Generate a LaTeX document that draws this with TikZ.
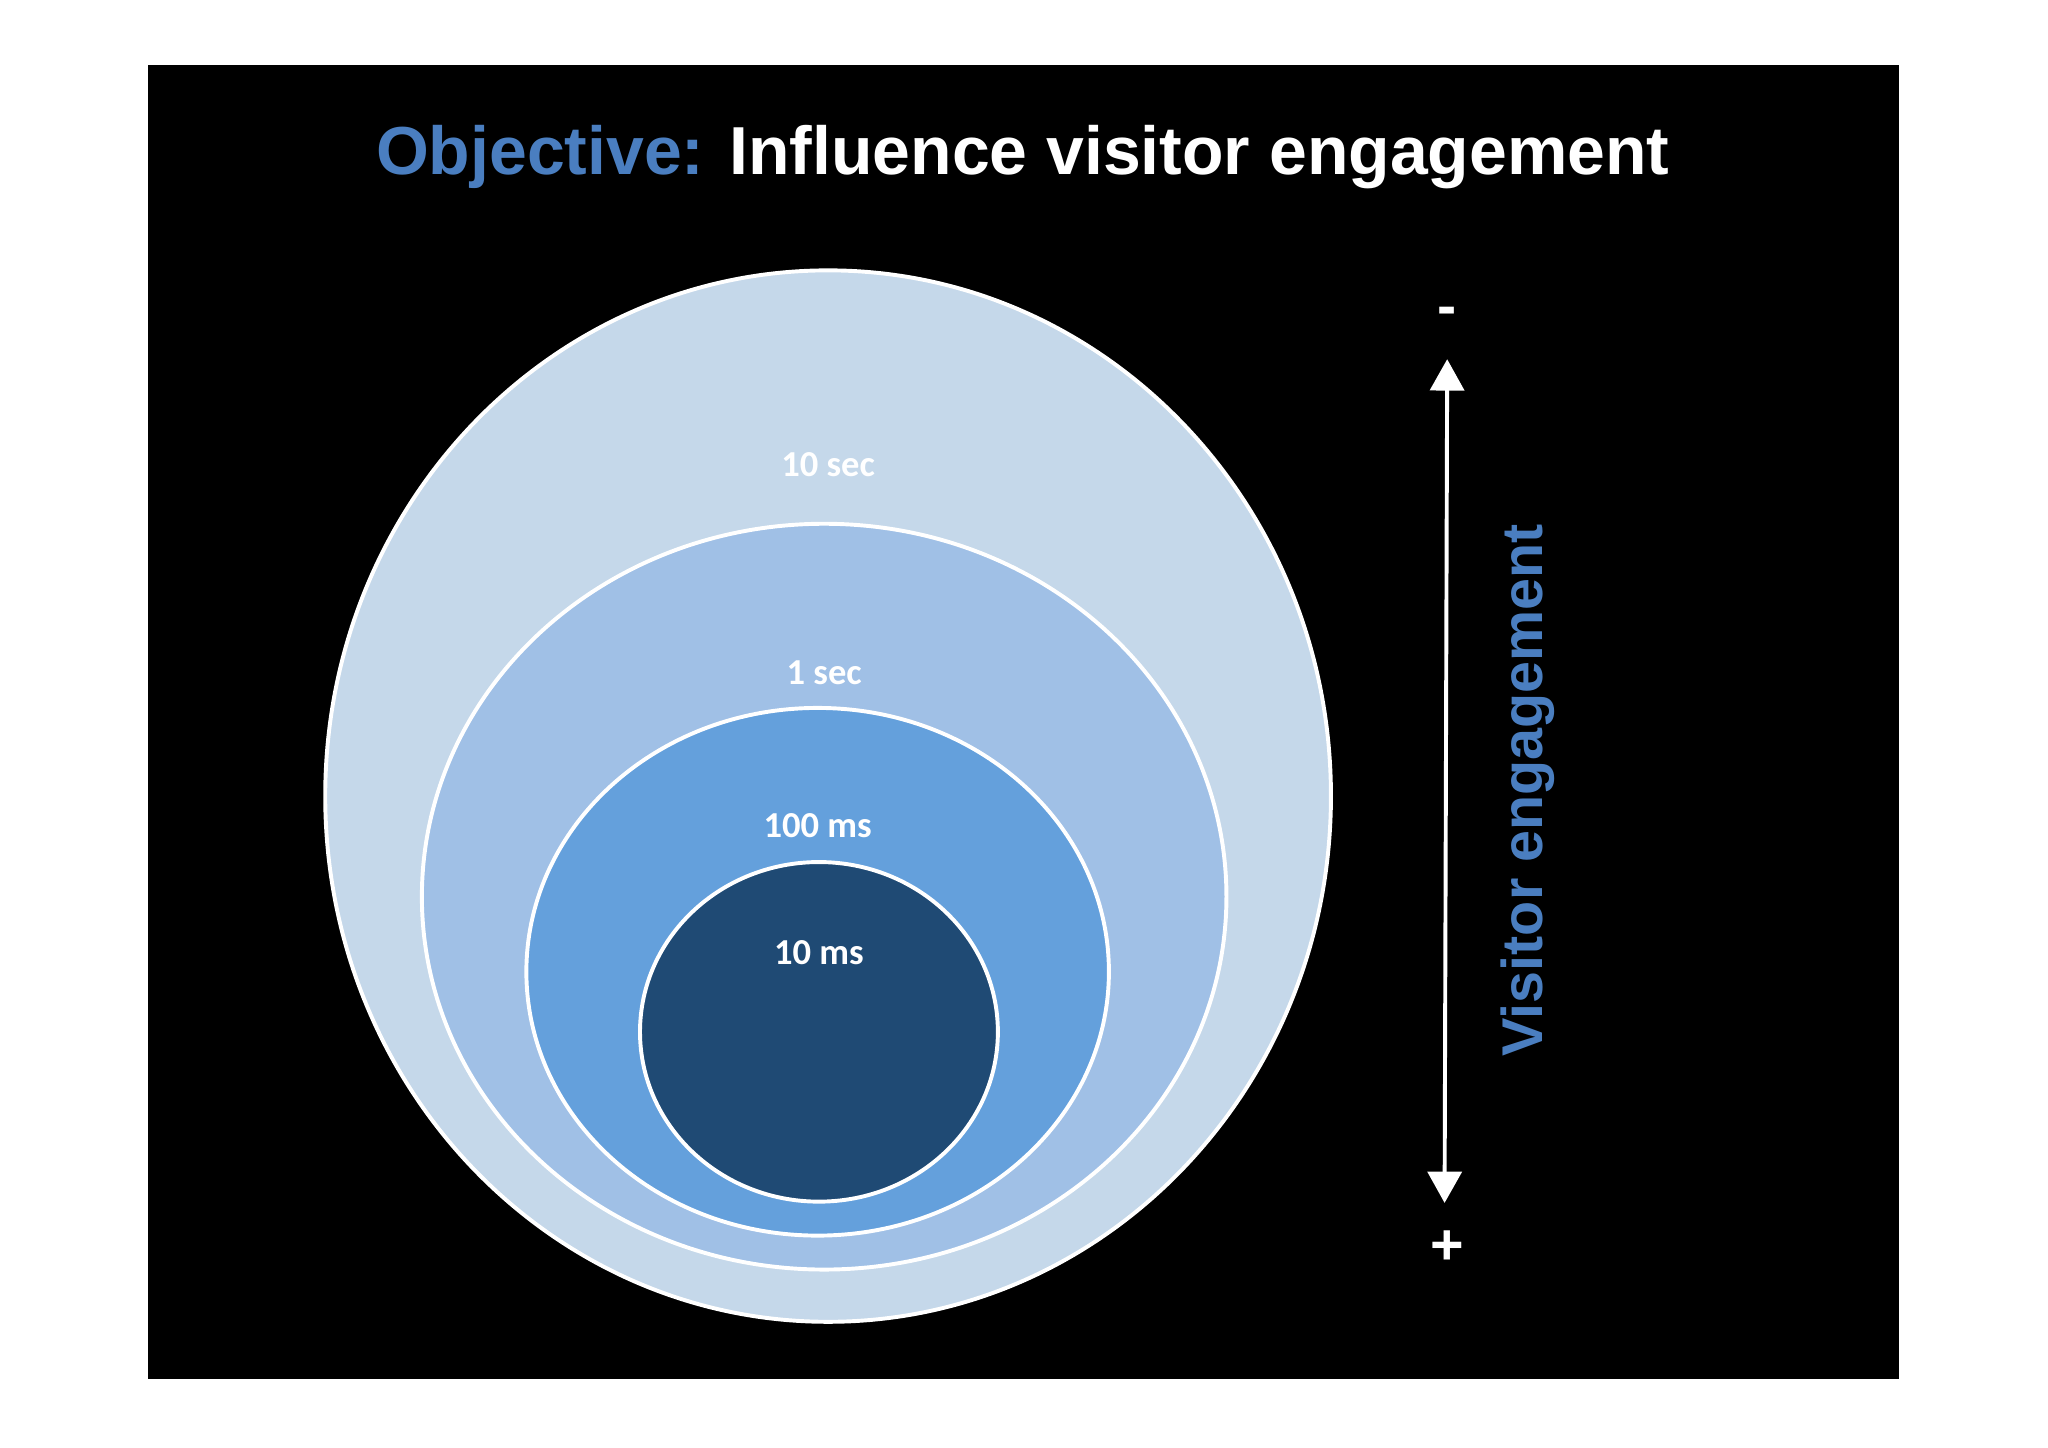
\documentclass[tikz,border=0pt]{standalone}
\usepackage{fontspec}
\setmainfont{Liberation Sans}
\newfontfamily\carlitofont{Carlito}
\usetikzlibrary{arrows.meta}
\definecolor{cA}{HTML}{C5D8EA}
\definecolor{cB}{HTML}{A0C0E6}
\definecolor{cC}{HTML}{64A0DC}
\definecolor{cD}{HTML}{1F4A74}
\definecolor{tblue}{HTML}{4A7EC0}
\tikzset{ring/.style={draw=white,line width=3pt},
 lab/.style={text=white,font=\carlitofont\bfseries\fontsize{28}{30}\selectfont}}
\begin{document}
\begin{tikzpicture}[x=1pt,y=-1pt]
\useasboundingbox (0,0) rectangle (1568,1108);
\fill[white] (0,0) rectangle (1568,1108);
\fill[black] (113,50) rectangle (1454,1056);
\node (title) at (783,120) {\fontsize{52}{56}\selectfont\bfseries\textcolor{tblue}{Objective:} \textcolor{white}{Influence visitor engagement}};
\draw[ring,fill=cA] (634,609.5) ellipse [x radius=385,y radius=402.5];
\draw[ring,fill=cB] (631,686.5) ellipse [x radius=308,y radius=285.5];
\draw[ring,fill=cC] (626,744) ellipse [x radius=223,y radius=202];
\draw[ring,fill=cD] (627,790) ellipse [x radius=137,y radius=130];
\node[lab] (l1) at (634,356) {10 sec};
\node[lab] (l2) at (631,515) {1 sec};
\node[lab] (l3) at (626,632) {100 ms};
\node[lab] (l4) at (627,729) {10 ms};
\node[text=white,font=\bfseries\fontsize{44}{44}\selectfont] (minus) at (1108,242) {-};
\node[text=white,font=\bfseries\fontsize{44}{44}\selectfont] (plus) at (1108,955) {+};
\coordinate (top) at (1108,275);
\coordinate (bot) at (1106,921);
\draw[white,line width=3pt,{Triangle[width=26pt,length=24pt]}-{Triangle[width=26pt,length=24pt]}] (top) -- (bot);
\node[rotate=90,text=tblue,font=\bfseries\fontsize{44}{46}\selectfont] (ve) at (1170,605) {Visitor engagement};
\end{tikzpicture}
\end{document}
